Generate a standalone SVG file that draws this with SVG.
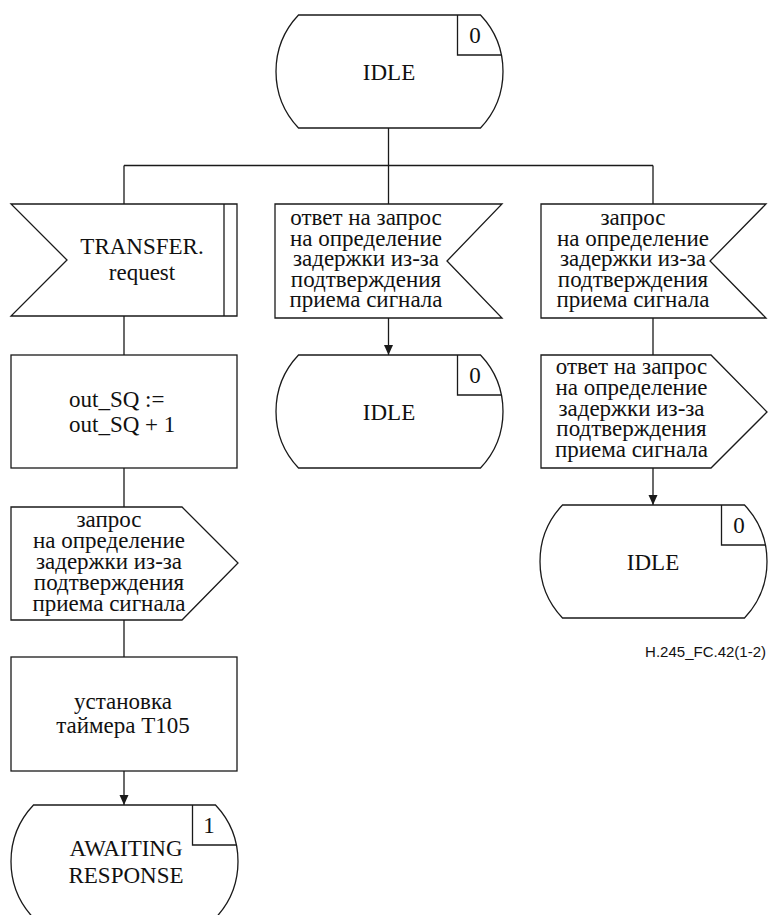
<svg xmlns="http://www.w3.org/2000/svg" width="768" height="915" viewBox="0 0 768 915">
<style>
.s{fill:#fff;stroke:#1a1a1a;stroke-width:1.3}
.ln{fill:none;stroke:#1a1a1a;stroke-width:1.3}
.t{font-family:'Liberation Serif','DejaVu Serif',serif;font-size:23px;fill:#111;text-anchor:middle}
.ts{font-family:'Liberation Serif','DejaVu Serif',serif;font-size:23px;fill:#111}
.lbl{font-family:'Liberation Sans',Arial,sans-serif;font-size:15px;fill:#111;text-anchor:end}
</style>
<defs>
<marker id="ah" markerUnits="userSpaceOnUse" markerWidth="10" markerHeight="10" viewBox="0 0 10 10" refX="10" refY="5" orient="auto">
<path d="M0,0.5 L10,5 L0,9.5 Z" fill="#1a1a1a"/>
</marker>
<g id="state">
<path class="s" d="M-91,-56.5 H91 A82.19,82.19 0 0 1 91,56.5 H-91 A82.19,82.19 0 0 1 -91,-56.5 Z"/>
<path class="ln" d="M68,-56.5 V-16.5 H111.8"/>
</g>
</defs>

<g id="connectors">
<path class="ln" d="M388.5,128 V165.5"/>
<path class="ln" d="M124,165.5 H653"/>
<path class="ln" d="M124,165.5 V204"/>
<path class="ln" d="M388.5,165.5 V204"/>
<path class="ln" d="M653,165.5 V204"/>
<path class="ln" d="M124,316 V355"/>
<path class="ln" d="M124,468 V507"/>
<path class="ln" d="M124,620 V657"/>
<path class="ln" d="M124,771 V805" marker-end="url(#ah)"/>
<path class="ln" d="M388.5,318 V355" marker-end="url(#ah)"/>
<path class="ln" d="M653,318 V355"/>
<path class="ln" d="M653,468 V505" marker-end="url(#ah)"/>
</g>

<g id="idle_top">
<use href="#state" x="389.5" y="71.5"/>
<text class="t" font-family="Liberation Serif, DejaVu Serif, serif" x="475" y="43">0</text>
<text class="t" font-family="Liberation Serif, DejaVu Serif, serif" x="389" y="80">IDLE</text>
</g>

<g id="transfer_request">
<polygon class="s" points="11,204 237,204 237,316 11,316 67,260"/>
<path class="ln" d="M224,204 V316"/>
<text class="t" x="142" y="254">TRANSFER.</text>
<text class="t" x="142" y="280">request</text>
</g>

<g id="input_response">
<polygon class="s" points="275,204 502,204 447,261 502,318 275,318"/>
<text class="t" x="366" y="225">ответ на запрос</text>
<text class="t" x="366" y="245.6">на определение</text>
<text class="t" x="366" y="266.2">задержки из-за</text>
<text class="t" x="366" y="286.8">подтверждения</text>
<text class="t" x="366" y="307.4">приема сигнала</text>
</g>

<g id="input_request">
<polygon class="s" points="541,204 766,204 710,261 766,318 541,318"/>
<text class="t" x="633" y="225">запрос</text>
<text class="t" x="633" y="245.6">на определение</text>
<text class="t" x="633" y="266.2">задержки из-за</text>
<text class="t" x="633" y="286.8">подтверждения</text>
<text class="t" x="633" y="307.4">приема сигнала</text>
</g>

<g id="idle_mid">
<use href="#state" x="389.5" y="411.5"/>
<text class="t" x="475" y="383">0</text>
<text class="t" x="389" y="420">IDLE</text>
</g>

<g id="output_response">
<polygon class="s" points="541,355 711,355 767,412 711,468 541,468"/>
<text class="t" x="631.5" y="374">ответ на запрос</text>
<text class="t" x="631.5" y="394.8">на определение</text>
<text class="t" x="631.5" y="415.6">задержки из-за</text>
<text class="t" x="631.5" y="436.4">подтверждения</text>
<text class="t" x="631.5" y="457.2">приема сигнала</text>
</g>

<g id="idle_right">
<use href="#state" x="653.5" y="561.5"/>
<text class="t" x="739" y="533">0</text>
<text class="t" x="653" y="570">IDLE</text>
</g>

<g id="task_sq">
<rect class="s" x="11" y="355" width="226" height="113"/>
<text class="ts" x="69" y="407">out_SQ :=</text>
<text class="ts" x="69" y="432">out_SQ + 1</text>
</g>

<g id="output_request">
<polygon class="s" points="11,507 182,507 238,563 182,620 11,620"/>
<text class="t" x="109" y="527">запрос</text>
<text class="t" x="109" y="548">на определение</text>
<text class="t" x="109" y="569">задержки из-за</text>
<text class="t" x="109" y="590">подтверждения</text>
<text class="t" x="109" y="611">приема сигнала</text>
</g>

<g id="task_timer">
<rect class="s" x="11" y="657" width="226" height="114"/>
<text class="t" x="123" y="709">установка</text>
<text class="t" x="123" y="733">таймера Т105</text>
</g>

<g id="awaiting_response">
<use href="#state" x="124.5" y="861.5"/>
<text class="t" x="209" y="833">1</text>
<text class="t" x="126" y="856">AWAITING</text>
<text class="t" x="126" y="883">RESPONSE</text>
</g>

<text class="lbl" x="766" y="657">H.245_FC.42(1-2)</text>
</svg>
